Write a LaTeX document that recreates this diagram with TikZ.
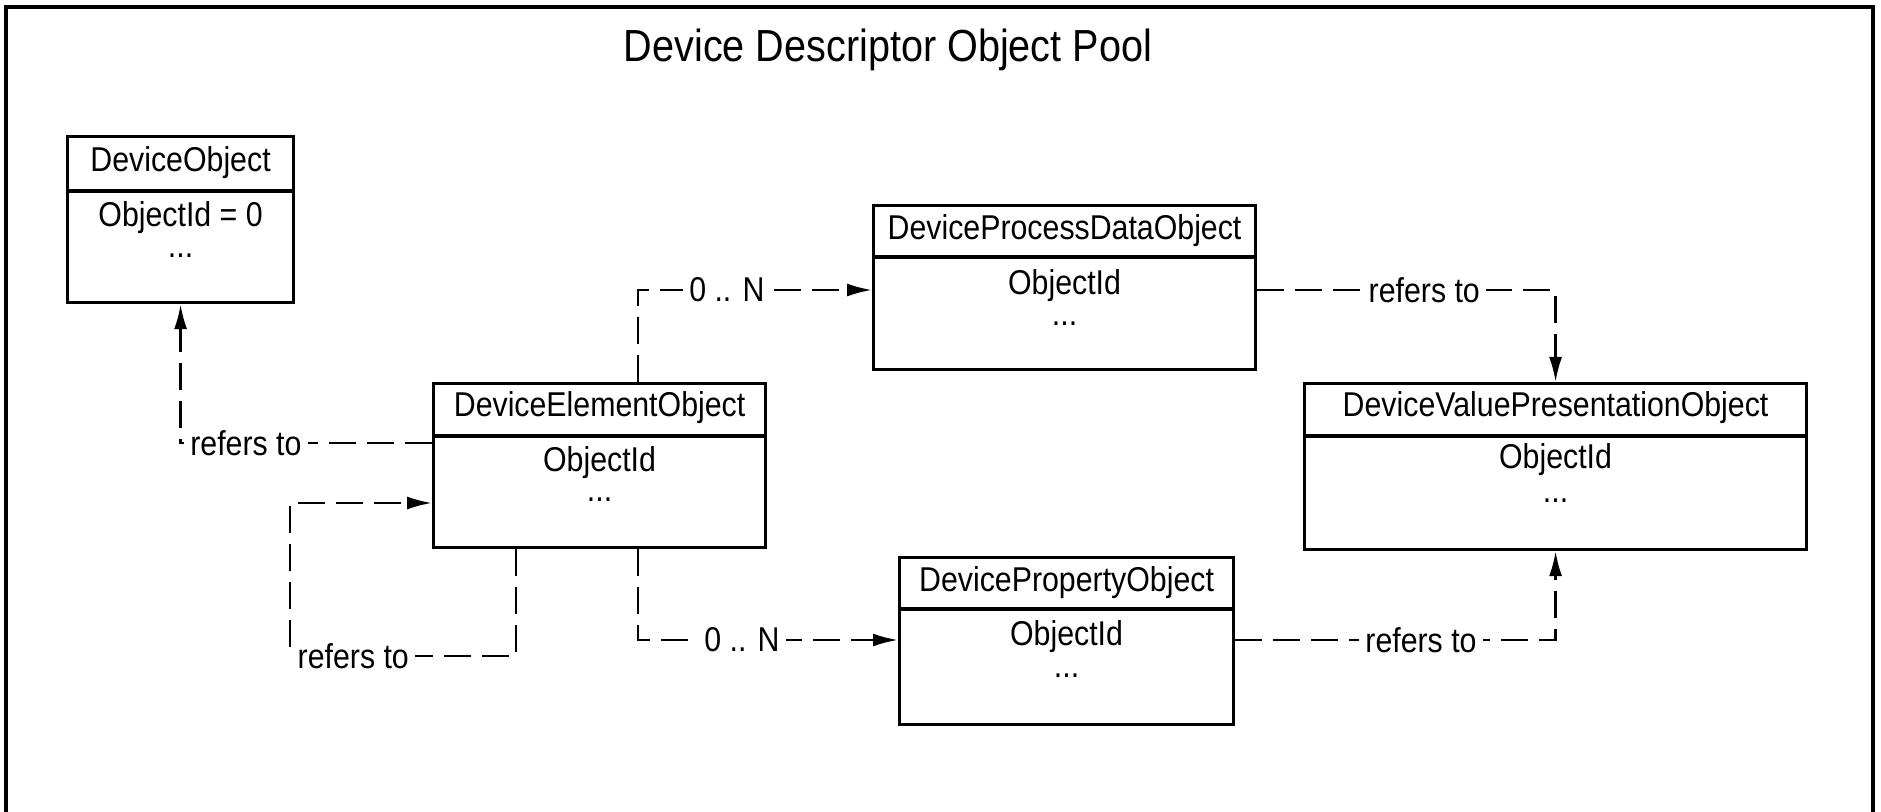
\documentclass[tikz,border=0pt]{standalone}
\usepackage{fontspec}
\setmainfont[FakeStretch=0.88]{Liberation Sans}
\usetikzlibrary{arrows.meta,calc}

\tikzset{
	objbox/.style={draw, line width=0.9pt, anchor=north west, inner sep=0pt},
	ref/.style={line width=0.7pt, dash pattern=on 0.27cm off 0.11cm, -{Latex[length=0.25cm,width=0.13cm]}},
	lbl/.style={fill=white, inner sep=1.8pt, font=\fontsize{9.8}{12}\selectfont},
	txt/.style={inner sep=0pt, font=\fontsize{9.8}{12}\selectfont},
}

\begin{document}
\begin{tikzpicture}
	\useasboundingbox (0,0) rectangle (18.81,-8.12);
	\draw[line width=1pt] (0.06,-8.2)--(0.06,-0.07)--(18.73,-0.07)--(18.73,-8.2);
	\node[font=\fontsize{12.8}{15}\selectfont] (pool) at (8.88,-0.50) {Device Descriptor Object Pool};
	
	% boxes
	\node[objbox, minimum width=2.26cm, minimum height=1.66cm] (dev) at (0.66,-1.35) {};
	\draw[line width=0.9pt] ($(dev.north west)+(0,-0.56)$)--($(dev.north east)+(0,-0.56)$);
	\node[txt] (devT) at ($(dev.north)+(0,-0.28)$) {DeviceObject};
	\node[txt] (devA) at ($(dev.north)+(0,-0.83)$) {ObjectId = 0};
	\node[txt] (devD) at ($(dev.north)+(0,-1.21)$) {...};
	
	\node[objbox, minimum width=3.82cm, minimum height=1.64cm] (proc) at (8.72,-2.04) {};
	\draw[line width=0.9pt] ($(proc.north west)+(0,-0.53)$)--($(proc.north east)+(0,-0.53)$);
	\node[txt] (procT) at ($(proc.north)+(0,-0.27)$) {DeviceProcessDataObject};
	\node[txt] (procA) at ($(proc.north)+(0,-0.82)$) {ObjectId};
	\node[txt] (procD) at ($(proc.north)+(0,-1.20)$) {...};
	
	\node[objbox, minimum width=3.32cm, minimum height=1.64cm] (elem) at (4.32,-3.82) {};
	\draw[line width=0.9pt] ($(elem.north west)+(0,-0.54)$)--($(elem.north east)+(0,-0.54)$);
	\node[txt] (elemT) at ($(elem.north)+(0,-0.26)$) {DeviceElementObject};
	\node[txt] (elemA) at ($(elem.north)+(0,-0.81)$) {ObjectId};
	\node[txt] (elemD) at ($(elem.north)+(0,-1.18)$) {...};
	
	\node[objbox, minimum width=5.02cm, minimum height=1.66cm] (val) at (13.03,-3.82) {};
	\draw[line width=0.9pt] ($(val.north west)+(0,-0.54)$)--($(val.north east)+(0,-0.54)$);
	\node[txt] (valT) at ($(val.north)+(0,-0.26)$) {DeviceValuePresentationObject};
	\node[txt] (valA) at ($(val.north)+(0,-0.78)$) {ObjectId};
	\node[txt] (valD) at ($(val.north)+(0,-1.19)$) {...};
	
	\node[objbox, minimum width=3.34cm, minimum height=1.67cm] (prop) at (8.98,-5.56) {};
	\draw[line width=0.9pt] ($(prop.north west)+(0,-0.53)$)--($(prop.north east)+(0,-0.53)$);
	\node[txt] (propT) at ($(prop.north)+(0,-0.27)$) {DevicePropertyObject};
	\node[txt] (propA) at ($(prop.north)+(0,-0.81)$) {ObjectId};
	\node[txt] (propD) at ($(prop.north)+(0,-1.20)$) {...};
	
	% links
	\draw[ref] ($(elem.north west)+(0,-0.61)$) -| node[lbl, pos=0.37] {refers to} (dev.south);
	\draw[ref] ($(elem.south west)+(0.84,0)$) |- node[lbl, pos=0.86] {refers to} (2.90,-6.56) |- ($(elem.north west)+(0,-1.21)$);
	\draw[ref] ($(elem.north west)+(2.06,0)$) |- node[lbl, pos=0.69] {0 .. N} ($(proc.north west)+(0,-0.86)$);
	\draw[ref] ($(elem.south west)+(2.06,0)$) |- node[lbl, pos=0.70] {0 .. N} ($(prop.north west)+(0,-0.84)$);
	\draw[ref] ($(proc.north east)+(0,-0.86)$) -| node[lbl, pos=0.28] {refers to} (val.north);
	\draw[ref] ($(prop.north east)+(0,-0.84)$) -| node[lbl, pos=0.29] {refers to} (val.south);
\end{tikzpicture}
\end{document}
